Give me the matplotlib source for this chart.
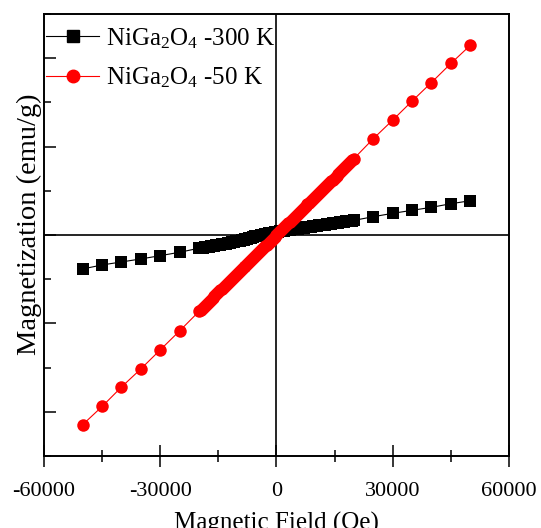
import matplotlib
matplotlib.use('Agg')
import matplotlib.pyplot as plt
from matplotlib.lines import Line2D
from matplotlib.ticker import MultipleLocator

plt.rcParams['font.family'] = ['Liberation Serif', 'DejaVu Serif']
plt.rcParams['mathtext.fontset'] = 'custom'
plt.rcParams['mathtext.rm'] = 'Liberation Serif'
plt.rcParams['mathtext.it'] = 'Liberation Serif:italic'
plt.rcParams['axes.unicode_minus'] = False

# applied field (Oe): coarse steps at high field, fine sweep around zero
field = [-50000, -45000, -40000, -35000, -30000, -25000,
         -20000, -19500, -19000, -18500, -18000, -17500, -17000, -16500, -16000, -15500,
         -15000, -14500, -14000, -13500, -13000, -12500, -12000, -11500, -11000, -10500,
         -10000, -9500, -9000, -8500, -8000, -7500, -7000, -6500, -6000, -5500,
         -5000, -4500, -4000, -3500, -3000, -2500, -2000, -1500, -1000, -500,
         0, 500, 1000, 1500, 2000, 2500, 3000, 3500, 4000, 4500,
         5000, 5500, 6000, 6500, 7000, 7500, 8000, 8500, 9000, 9500,
         10000, 10500, 11000, 11500, 12000, 12500, 13000, 13500, 14000, 14500,
         15000, 15500, 16000, 16500, 17000, 17500, 18000, 18500, 19000, 19500, 20000,
         25000, 30000, 35000, 40000, 45000, 50000]

# NiGa2O4 at 300 K (emu/g)
m_300k = [-0.768, -0.678, -0.610, -0.542, -0.468, -0.391,
          -0.300, -0.293, -0.286, -0.279, -0.271, -0.264, -0.256, -0.249, -0.241, -0.233,
          -0.225, -0.217, -0.209, -0.201, -0.193, -0.184, -0.175, -0.166, -0.156, -0.146,
          -0.136, -0.125, -0.114, -0.103, -0.091, -0.080, -0.068, -0.057, -0.045, -0.034,
          -0.023, -0.012, -0.002, 0.008, 0.018, 0.028, 0.037, 0.046, 0.054, 0.062,
          0.070, 0.078, 0.085, 0.092, 0.099, 0.106, 0.113, 0.120, 0.126, 0.133,
          0.139, 0.146, 0.152, 0.159, 0.165, 0.172, 0.178, 0.184, 0.190, 0.197,
          0.203, 0.210, 0.216, 0.223, 0.229, 0.235, 0.241, 0.248, 0.254, 0.261,
          0.267, 0.274, 0.280, 0.287, 0.293, 0.300, 0.306, 0.312, 0.318, 0.325, 0.331,
          0.414, 0.490, 0.558, 0.626, 0.707, 0.775]

# NiGa2O4 at 50 K (emu/g)
m_50k = [-4.29, -3.88, -3.44, -3.03, -2.60, -2.17,
         -1.730, -1.687, -1.644, -1.600, -1.557, -1.514, -1.471, -1.427, -1.384, -1.341,
         -1.298, -1.254, -1.211, -1.168, -1.125, -1.081, -1.038, -0.995, -0.952, -0.908,
         -0.865, -0.822, -0.779, -0.735, -0.692, -0.649, -0.606, -0.562, -0.519, -0.476,
         -0.433, -0.389, -0.346, -0.303, -0.260, -0.216, -0.173, -0.130, -0.087, -0.043,
         0.000, 0.043, 0.087, 0.130, 0.173, 0.216, 0.260, 0.303, 0.346, 0.389,
         0.433, 0.476, 0.519, 0.562, 0.606, 0.649, 0.692, 0.735, 0.779, 0.822,
         0.865, 0.908, 0.952, 0.995, 1.038, 1.081, 1.125, 1.168, 1.211, 1.254,
         1.298, 1.341, 1.384, 1.427, 1.471, 1.514, 1.557, 1.600, 1.644, 1.687, 1.730,
         2.18, 2.60, 3.03, 3.45, 3.88, 4.29]

labels = [r'NiGa$_2$O$_4$ -300 K', r'NiGa$_2$O$_4$ -50 K']

fig = plt.figure(figsize=(5.41, 5.28), dpi=100)
ax = fig.add_axes([0.0813, 0.1364, 0.8595, 0.8371])

ax.axhline(0, color='black', lw=1.2, zorder=1)
ax.axvline(0, color='black', lw=1.2, zorder=1)

# connecting lines, then markers via scatter (sub-pixel placement, smooth dense band)
ax.plot(field, m_300k, color='black', lw=0.8, zorder=2)
ax.scatter(field, m_300k, s=64, marker='s', color='black', linewidths=0, zorder=3)
ax.plot(field, m_50k, color='red', lw=0.8, zorder=4)
ax.scatter(field, m_50k, s=81, marker='o', color='red', linewidths=0, zorder=5)

ax.set_xlim(-60000, 60000)
ax.set_ylim(-5, 5)
ax.xaxis.set_major_locator(MultipleLocator(30000))
ax.xaxis.set_minor_locator(MultipleLocator(15000))
ax.yaxis.set_major_locator(MultipleLocator(2))
ax.yaxis.set_minor_locator(MultipleLocator(1))

ax.tick_params(axis='x', which='major', direction='inout', length=16, width=1.1,
               labelsize=16, pad=11)
ax.tick_params(axis='x', which='minor', direction='inout', length=9, width=1.1)
ax.tick_params(axis='y', which='major', direction='in', length=8.5, width=1.1,
               labelleft=False)
ax.tick_params(axis='y', which='minor', direction='in', length=4.8, width=1.1)

for sp in ax.spines.values():
    sp.set_linewidth(1.4)

ax.set_xlabel('Magnetic Field (Oe)', fontsize=18, labelpad=7.5)
ax.set_ylabel('Magnetization (emu/g)', fontsize=20.5)
ax.yaxis.set_label_coords(-0.005, 0.524)

handles = [
    Line2D([], [], color='black', lw=0.8, marker='s', ms=8, mec='black', mfc='black'),
    Line2D([], [], color='red', lw=0.8, marker='o', ms=9, mec='red', mfc='red'),
]
ax.legend(handles, labels, loc='upper left', bbox_to_anchor=(0.0, 0.978),
          frameon=False, fontsize=18, numpoints=1, handlelength=2.1,
          handletextpad=0.3, labelspacing=0.6, borderaxespad=0, borderpad=0.1)

fig.savefig('out.png', dpi=100)
